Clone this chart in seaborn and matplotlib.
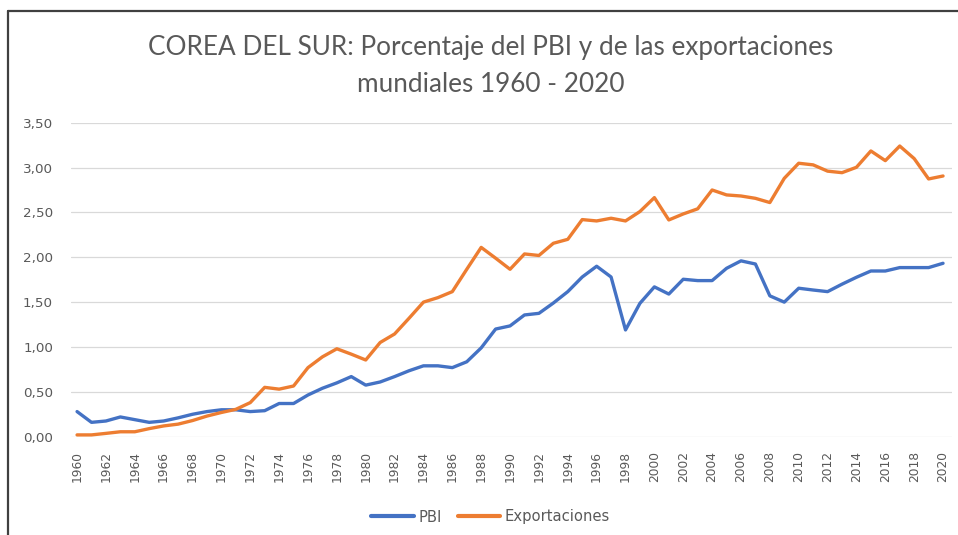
import matplotlib
matplotlib.use("Agg")
import matplotlib.pyplot as plt
import seaborn as sns
import pandas as pd
from matplotlib.lines import Line2D

years = list(range(1960, 2021))
pbi = [0.28, 0.16, 0.175, 0.22, 0.19, 0.16, 0.175, 0.21, 0.25, 0.28,
       0.30, 0.30, 0.28, 0.29, 0.37, 0.37, 0.465, 0.54, 0.60, 0.67,
       0.575, 0.61, 0.67, 0.735, 0.79, 0.79, 0.77, 0.835, 0.99, 1.20,
       1.235, 1.357, 1.375, 1.49, 1.617, 1.78, 1.90, 1.78, 1.19, 1.487,
       1.67, 1.59, 1.755, 1.74, 1.74, 1.877, 1.96, 1.925, 1.57, 1.50,
       1.655, 1.635, 1.617, 1.70, 1.777, 1.847, 1.847, 1.885, 1.885, 1.885,
       1.933]
exportaciones = [0.02, 0.02, 0.037, 0.055, 0.055, 0.09, 0.12, 0.14, 0.18, 0.23,
                 0.27, 0.305, 0.38, 0.55, 0.53, 0.565, 0.77, 0.89, 0.98, 0.92,
                 0.855, 1.05, 1.145, 1.32, 1.50, 1.55, 1.617, 1.866, 2.11, 1.99,
                 1.866, 2.037, 2.02, 2.156, 2.20, 2.42, 2.405, 2.435, 2.405, 2.51,
                 2.665, 2.416, 2.483, 2.54, 2.75, 2.695, 2.683, 2.657, 2.61, 2.88,
                 3.048, 3.03, 2.96, 2.943, 3.003, 3.185, 3.077, 3.24, 3.10, 2.873,
                 2.906]
series_names = ["PBI", "Exportaciones"]
series_colors = ["#4472C4", "#ED7D31"]
y_ticks = [0.0, 0.5, 1.0, 1.5, 2.0, 2.5, 3.0, 3.5]
x_ticks = list(range(1960, 2021, 2))
title = "COREA DEL SUR: Porcentaje del PBI y de las exportaciones\nmundiales 1960 - 2020"

df = pd.DataFrame({
    "Año": years * 2,
    "Valor": pbi + exportaciones,
    "Serie": [series_names[0]] * len(years) + [series_names[1]] * len(years),
})

sns.set_theme(style="white")
plt.rcParams["font.family"] = ["DejaVu Sans"]

fig = plt.figure(figsize=(9.58, 5.35), dpi=100)
ax = fig.add_axes([71 / 958, 1 - 436.7 / 535, (951.7 - 71) / 958, (436.7 - 122.7) / 535])

sns.lineplot(data=df, x="Año", y="Valor", hue="Serie", palette=series_colors,
             hue_order=series_names, linewidth=2.4, ax=ax, legend=False)

ax.set_xlim(1959.58, 2020.6)
ax.set_ylim(0, 3.5)
ax.set_yticks(y_ticks)
ax.set_yticklabels([f"{v:.2f}".replace(".", ",") for v in y_ticks])
ax.set_xticks(x_ticks)
ax.set_xticklabels([str(y) for y in x_ticks], rotation=90)
ax.tick_params(axis="y", length=0, pad=13, labelsize=9.7, labelcolor="#595959")
ax.tick_params(axis="x", length=0, pad=10, labelsize=8.8, labelcolor="#595959")
ax.set_xlabel("")
ax.set_ylabel("")
ax.grid(axis="y", color="#d9d9d9", linewidth=0.9)
ax.grid(axis="x", visible=False)
for s in ax.spines.values():
    s.set_visible(False)
ax.set_axisbelow(True)

fig.text(0.512, 1 - 65.5 / 535, title, ha="center", va="center", fontsize=18.8,
         color="#595959", family=["Lato", "DejaVu Sans"], linespacing=1.6)

handles = [Line2D([0], [0], color=c, linewidth=3) for c in series_colors]
fig.legend(handles, series_names, loc="center", bbox_to_anchor=(0.512, 1 - 517 / 535),
           ncol=2, frameon=False, fontsize=10.6, handlelength=2.9, handletextpad=0.3,
           columnspacing=1.1, labelcolor="#595959")

# outer frame (top and left edges visible)
fig.add_artist(Line2D([7.5 / 958, 1.0], [1 - 11 / 535, 1 - 11 / 535], color="#404040",
                      linewidth=1.6, transform=fig.transFigure))
fig.add_artist(Line2D([7.5 / 958, 7.5 / 958], [0, 1 - 11 / 535], color="#404040",
                      linewidth=1.6, transform=fig.transFigure))

fig.savefig("out.png", dpi=100)
